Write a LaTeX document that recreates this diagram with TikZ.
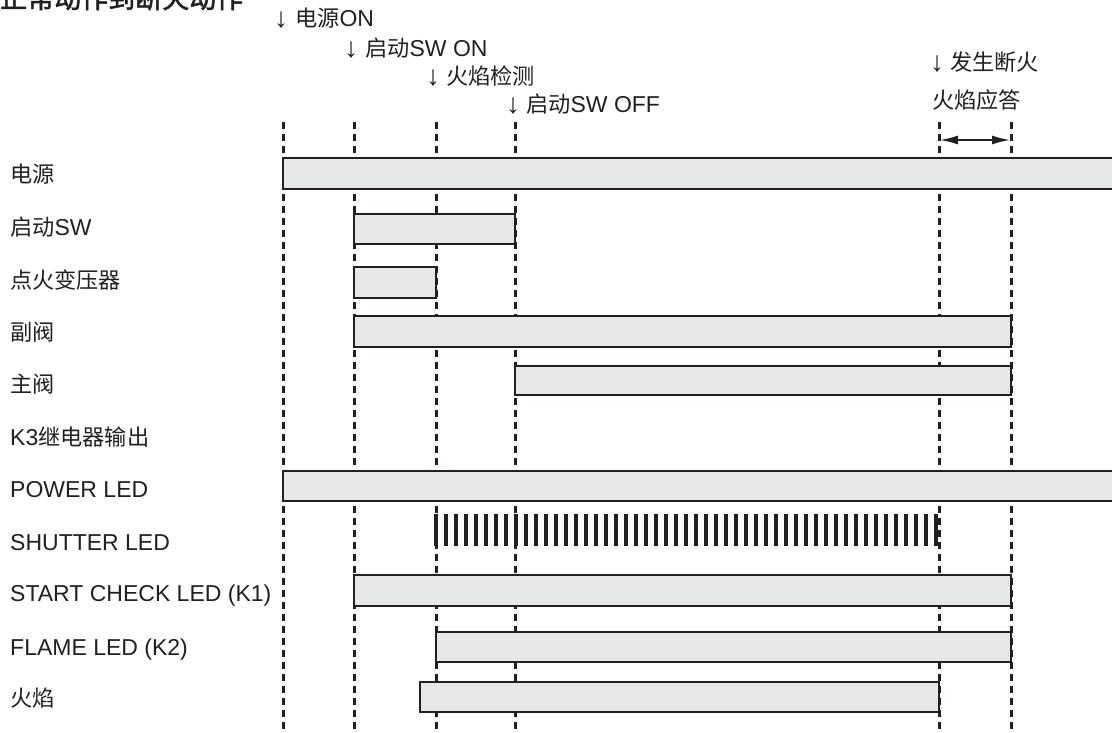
\documentclass[tikz,border=0pt]{standalone}
\usepackage{fontspec}
\setmainfont{Liberation Sans}
\newfontfamily\cjkfont{Noto Sans CJK SC}
\newfontfamily\cjkb[FakeBold=2]{Noto Sans CJK SC}
\newcommand\zh[1]{{\cjkfont\fontsize{22.2}{26}\selectfont #1}}
\usetikzlibrary{arrows.meta}
\definecolor{barfill}{HTML}{E6E7E8}
\definecolor{ink}{HTML}{231F20}
\begin{document}
\begin{tikzpicture}[x=1pt,y=-1pt,
  lbl/.style={anchor=base west, inner sep=0pt, text=ink, font=\fontsize{23}{27}\selectfont},
  evt/.style={anchor=base west, inner sep=0pt, text=ink, font=\fontsize{23}{27}\selectfont},
  arr/.style={anchor=base, inner sep=0pt, text=ink, font=\fontsize{28}{30}\selectfont},
  guide/.style={draw=ink, line width=3pt, dash pattern=on 7pt off 5pt},
  bar/.style={draw=ink, fill=barfill, line width=1.5pt},
  stripe/.style={fill=ink, draw=none},
  span/.style={draw=ink, line width=1.6pt, {Latex[length=18pt,width=9pt]}-{Latex[length=18pt,width=9pt]}}
]
\useasboundingbox (0,0) rectangle (1112,733);

% title (cut off at the top)
\node[anchor=base west, inner sep=0pt, text=ink, font=\cjkb\fontsize{27}{30}\selectfont] (title) at (0,8) {正常动作到断火动作};

% time guide lines
\foreach \n/\x in {1/283,2/354,3/436,4/515,5/939,6/1011}{
  \coordinate (t\n) at (\x,122);
  \coordinate (b\n) at (\x,740);
}
\foreach \n in {1,...,6}{ \draw[guide] (t\n) -- (b\n); }

% event labels
\node[arr] (a1) at (281,28) {↓};
\node[evt] (e1) at (295,27) {\zh{电源}ON};
\node[arr] (a2) at (351,58) {↓};
\node[evt] (e2) at (365,57) {\zh{启动}SW ON};
\node[arr] (a3) at (433,86) {↓};
\node[evt] (e3) at (446,85) {\zh{火焰检测}};
\node[arr] (a4) at (513,114) {↓};
\node[evt] (e4) at (526,113) {\zh{启动}SW OFF};
\node[arr] (a5) at (937,72) {↓};
\node[evt] (e5) at (950,71) {\zh{发生断火}};
\node[evt] (e6) at (932,109) {\zh{火焰应答}};
\coordinate (r1) at (940,140);
\coordinate (r2) at (1010,140);
\draw[span] (r1) -- (r2);

% row labels
\node[lbl] (l1)  at (10,183) {\zh{电源}};
\node[lbl] (l2)  at (10,236) {\zh{启动}SW};
\node[lbl] (l3)  at (10,288) {\zh{点火变压器}};
\node[lbl] (l4)  at (10,340) {\zh{副阀}};
\node[lbl] (l5)  at (10,392) {\zh{主阀}};
\node[lbl] (l6)  at (10,445) {K3\zh{继电器输出}};
\node[lbl] (l7)  at (10,497) {POWER LED};
\node[lbl] (l8)  at (10,550) {SHUTTER LED};
\node[lbl] (l9)  at (10,601) {START CHECK LED (K1)};
\node[lbl] (l10) at (10,655) {FLAME LED (K2)};
\node[lbl] (l11) at (10,706) {\zh{火焰}};

% bars
\draw[bar] (283,158) rectangle (1130,189);   % 电源
\draw[bar] (354,214) rectangle (515,244);    % 启动SW
\draw[bar] (354,267) rectangle (436,298);    % 点火变压器
\draw[bar] (354,316) rectangle (1011,347);   % 副阀
\draw[bar] (515,366) rectangle (1011,395);   % 主阀
\draw[bar] (283,471) rectangle (1130,501);   % POWER LED
\foreach \i in {0,...,50}{
  \fill[stripe] ({436+10*\i-2.4},514) rectangle ++(4.8,32);
}
\draw[bar] (354,575) rectangle (1011,606);   % START CHECK LED
\draw[bar] (436,632) rectangle (1011,662);   % FLAME LED
\draw[bar] (420,682) rectangle (939,712);    % 火焰
\end{tikzpicture}
\end{document}
